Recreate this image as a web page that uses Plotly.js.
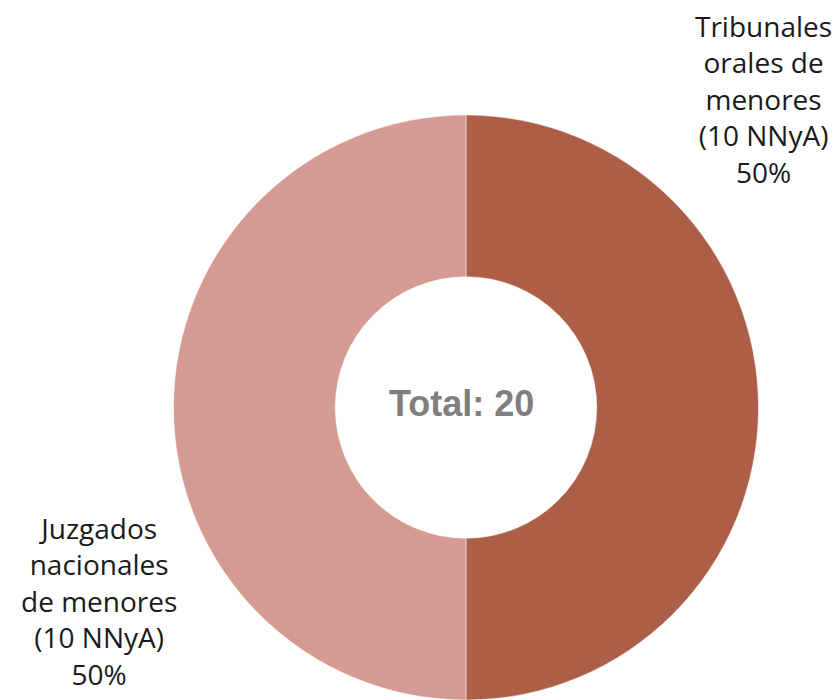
<!DOCTYPE html>
<html><head><meta charset="utf-8">
<script src="https://cdn.plot.ly/plotly-3.0.1.min.js"></script>
<style>html,body{margin:0;padding:0;background:#fff}#chart{width:835px;height:700px}</style>
</head><body><div id="chart"></div>
<script>
const categories = ["Tribunales orales de menores (10 NNyA)", "Juzgados nacionales de menores (10 NNyA)"];
const values = [10, 10];
const colors = ["#AD5E47", "#D59B92"];
const labelTexts = ["Tribunales<br>orales de<br>menores<br>(10 NNyA)<br>50%", "Juzgados<br>nacionales<br>de menores<br>(10 NNyA)<br>50%"];
const totalText = "Total: 20";

const data = [{
  type: "pie",
  labels: categories,
  values: values,
  hole: 0.447,
  sort: false,
  direction: "clockwise",
  rotation: 0,
  textinfo: "none",
  hoverinfo: "label+value+percent",
  marker: {colors: colors, line: {color: "#ffffff", width: 0.5}},
  domain: {x: [173/835, 759/835], y: [0, 585/700]},
  showlegend: false
}];
const layout = {
  width: 835, height: 700,
  margin: {l: 0, r: 0, t: 0, b: 0},
  paper_bgcolor: "#fff",
  annotations: [
    {text: labelTexts[0], x: 763/835, y: 1 - 99/700, xref: "paper", yref: "paper", xanchor: "center", yanchor: "middle", showarrow: false, align: "center", font: {family: "Open Sans", size: 28, color: "#1a1a1a"}},
    {text: labelTexts[1], x: 99/835, y: 1 - 601/700, xref: "paper", yref: "paper", xanchor: "center", yanchor: "middle", showarrow: false, align: "center", font: {family: "Open Sans", size: 28, color: "#1a1a1a"}},
    {text: "<b>" + totalText + "</b>", x: 462/835, y: 1 - 403/700, xref: "paper", yref: "paper", xanchor: "center", yanchor: "middle", showarrow: false, font: {family: "Liberation Sans", size: 36, color: "#7F7F7F"}}
  ]
};
Plotly.newPlot("chart", data, layout, {displayModeBar: false});
</script></body></html>
